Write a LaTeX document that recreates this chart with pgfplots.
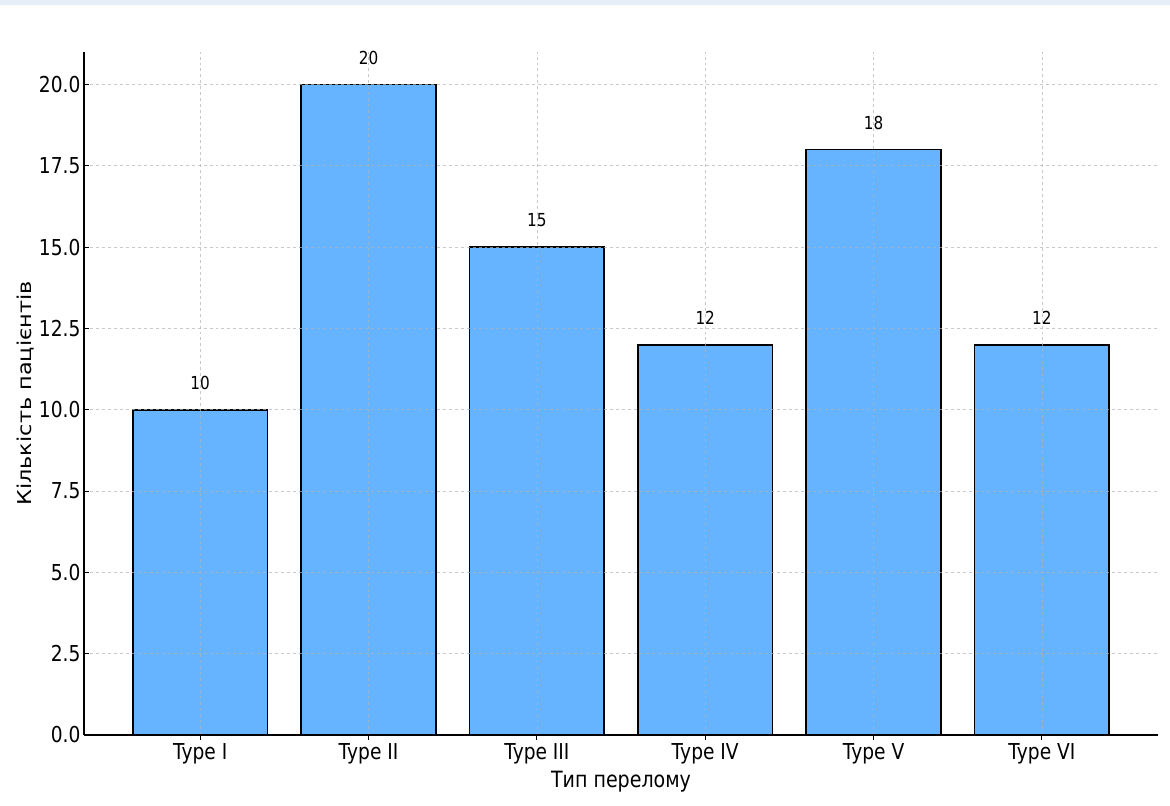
\documentclass[border=0pt]{standalone}
\usepackage{fontspec}
\setmainfont{DejaVu Sans}[FakeStretch=0.85]
\newfontfamily\fullfont{DejaVu Sans}
\usepackage{pgfplots}
\pgfplotsset{compat=1.18}
\definecolor{barblue}{HTML}{66B3FF}
\definecolor{topband}{HTML}{E8EEF7}
\begin{document}
\begin{tikzpicture}[x=1bp,y=1bp]
\path[use as bounding box] (0,0) rectangle (1170,806);
\fill[topband] (0,801) rectangle (1170,806);
\begin{axis}[
  at={(84bp,71bp)}, anchor=south west,
  scale only axis, width=1074bp, height=683bp,
  xmin=-0.69, xmax=5.69, ymin=0, ymax=21,
  axis x line*=bottom, axis y line*=left,
  x axis line style={-}, y axis line style={-},
  axis line style={line width=1.4bp, black},
  axis on top,
  xtick={0,1,2,3,4,5},
  xticklabels={Type I,Type II,Type III,Type IV,Type V,Type VI},
  ytick={0,2.5,5,7.5,10,12.5,15,17.5,20},
  yticklabel style={/pgf/number format/.cd, fixed, fixed zerofill, precision=1},
  /pgf/number format/assume math mode=true,
  tick align=inside, major tick length=5bp,
  tick style={black, line width=1bp},
  ticklabel style={font=\fontsize{22}{25}\selectfont},
  grid=major,
  major grid style={dashed, black!30, line width=0.7bp, opacity=0.7},
  xlabel={Тип перелому},
  ylabel={\scalebox{1}[0.85]{\fullfont Кількість пацієнтів}},
  label style={font=\fontsize{22.5}{25}\selectfont},
  ylabel style={yshift=-2bp},
  ybar, bar width=0.8,
  nodes near coords,
  every node near coord/.append style={font=\fontsize{18}{20}\selectfont, anchor=center, yshift=27bp, black},
]
\addplot[fill=barblue, draw=black, line width=1.8bp] coordinates {
  (0,10) (1,20) (2,15) (3,12) (4,18) (5,12)
};
\end{axis}
\end{tikzpicture}
\end{document}
